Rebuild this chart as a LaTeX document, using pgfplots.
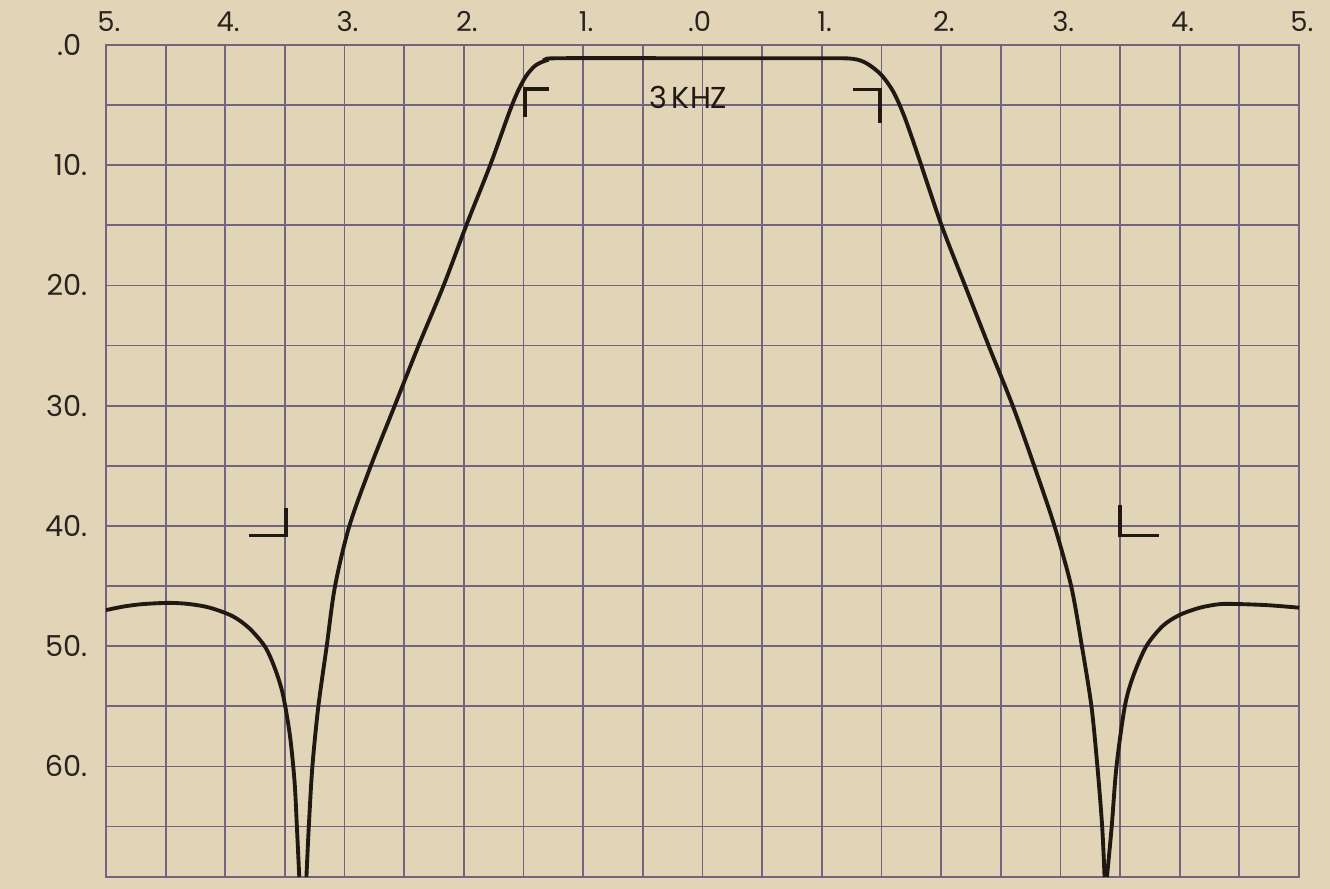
\documentclass[border=0pt]{standalone}
\usepackage{fontspec}
\setmainfont{Poppins}
\usepackage{pgfplots}
\pgfplotsset{compat=1.18}

\definecolor{paper}{RGB}{226,213,183}
\definecolor{gridc}{RGB}{112,100,128}
\definecolor{ink}{RGB}{32,25,18}
\definecolor{lbl}{RGB}{40,35,30}

\begin{document}
\begin{tikzpicture}
  % paper background, same proportions as the scan
  \fill[paper] (0,0) rectangle (133mm,88.9mm);
  \begin{axis}[
    at={(10.6mm,1.2mm)}, anchor=south west,
    scale only axis,
    width=119.3mm, height=83.2mm,
    xmin=-5, xmax=5,
    ymin=0, ymax=69.2,
    y dir=reverse,
    xtick={-5,...,5},
    xticklabels={5\rlap{.},4\rlap{.},3\rlap{.},2\rlap{.},1\rlap{.},\llap{.}0,1\rlap{.},2\rlap{.},3\rlap{.},4\rlap{.},5\rlap{.}},
    minor xtick={-4.5,-3.5,...,4.5},
    ytick={0,10,...,60},
    yticklabels={.0\hphantom{.},10.,20.,30.,40.,50.,60.},
    minor ytick={5,15,...,65},
    xticklabel pos=upper,
    major tick length=0pt, minor tick length=0pt,
    tick label style={text=lbl},
    xticklabel style={font=\fontsize{7.8}{9}\selectfont, anchor=south, inner sep=0pt, yshift=1.3mm},
    yticklabel style={font=\fontsize{8.2}{9}\selectfont, anchor=east, inner sep=0pt, xshift=-1.8mm},
    grid=both,
    major grid style={gridc, line width=0.5pt},
    minor grid style={gridc, line width=0.5pt},
    axis line style={gridc, line width=0.8pt},
  ]
    % left stopband lobe down into the notch
    \addplot[ink, line width=1.1pt, smooth, tension=0.5] coordinates {
      (-5.00,47.0) (-4.85,46.7) (-4.69,46.5) (-4.47,46.4) (-4.30,46.5)
      (-4.13,46.8) (-3.94,47.5) (-3.80,48.5) (-3.67,50.0) (-3.59,51.7)
      (-3.52,53.9) (-3.46,57.3) (-3.42,61.2) (-3.40,65.0) (-3.38,69.2)
    };
    % main passband response, notch to notch
    \addplot[ink, line width=1.1pt, smooth, tension=0.5] coordinates {
      (-3.32,69.2) (-3.30,65.0) (-3.27,60.0) (-3.22,55.0) (-3.15,50.0)
      (-3.08,45.0) (-2.96,40.0) (-2.78,35.0) (-2.58,30.0) (-2.38,25.0)
      (-2.17,20.0) (-1.98,15.0) (-1.78,10.0) (-1.62,5.6) (-1.55,3.9)
      (-1.48,2.6) (-1.40,1.7) (-1.30,1.25) (-1.20,1.1)
      (0,1.1) (1.00,1.1) (1.26,1.15) (1.38,1.55) (1.50,2.5) (1.60,3.9)
      (1.69,5.9) (1.80,9.0) (2.00,14.9) (2.20,20.0) (2.41,25.3)
      (2.60,30.0) (2.78,35.0) (2.95,40.0) (3.09,45.0)
      (3.18,50.0) (3.26,55.0) (3.31,60.0) (3.35,65.0) (3.37,69.2)
    };
    % right stopband lobe up from the notch
    \addplot[ink, line width=1.1pt, smooth, tension=0.5] coordinates {
      (3.39,69.2) (3.43,65.0) (3.47,60.0) (3.54,55.0) (3.61,52.5)
      (3.72,50.0) (3.86,48.3) (4.00,47.4) (4.17,46.8) (4.34,46.5)
      (4.50,46.5) (4.75,46.6) (5.00,46.8)
    };
    % spec corner marks
    \addplot[ink, line width=1.1pt] coordinates {(-1.29,3.65) (-1.49,3.65) (-1.49,6.0)};
    \addplot[ink, line width=1.1pt] coordinates {(1.26,3.7) (1.49,3.7) (1.49,6.5)};
    \addplot[ink, line width=1.1pt] coordinates {(-3.80,40.8) (-3.49,40.8) (-3.49,38.5)};
    \addplot[ink, line width=1.1pt] coordinates {(3.50,38.3) (3.50,40.8) (3.83,40.8)};
    \node[text=ink, font=\fontsize{8.6}{10}\selectfont] at (axis cs:-0.12,4.35) {3\,KHZ};
  \end{axis}
\end{tikzpicture}
\end{document}
